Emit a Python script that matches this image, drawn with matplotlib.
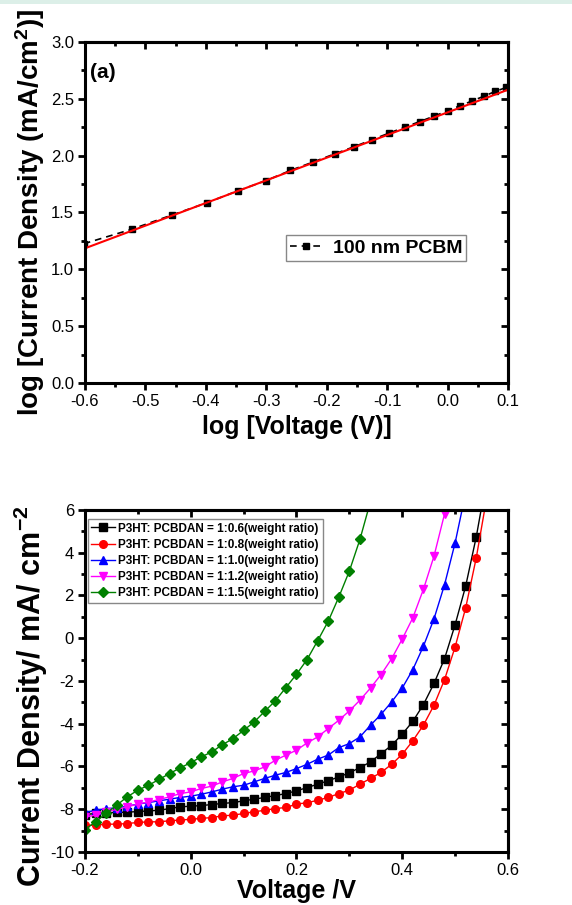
import matplotlib
matplotlib.use("Agg")
import matplotlib.pyplot as plt
from matplotlib.ticker import MultipleLocator, NullFormatter
from matplotlib.patches import Rectangle

plt.rcParams['font.family'] = ['Liberation Sans', 'DejaVu Sans']
plt.rcParams['mathtext.fontset'] = 'custom'
plt.rcParams['mathtext.rm'] = 'Liberation Sans:bold'
plt.rcParams['mathtext.bf'] = 'Liberation Sans:bold'
plt.rcParams['mathtext.default'] = 'bf'
plt.rcParams['axes.unicode_minus'] = False

# ---------------- (a) log-log J-V, 100 nm PCBM ----------------
log_v = [-0.602, -0.523, -0.456, -0.398, -0.347, -0.301, -0.260, -0.222,
         -0.187, -0.155, -0.125, -0.097, -0.071, -0.046, -0.022, 0.000,
         0.021, 0.041, 0.061, 0.079, 0.097]
log_j = [1.225, 1.352, 1.478, 1.586, 1.691, 1.779, 1.870, 1.945,
         2.015, 2.078, 2.140, 2.198, 2.250, 2.300, 2.348, 2.395,
         2.440, 2.482, 2.525, 2.565, 2.600]
fit_x = [-0.6, 0.1]
fit_y = [1.185, 2.58]

# ---------------- (b) J-V curves ----------------
voltage = [-0.20, -0.18, -0.16, -0.14, -0.12, -0.10, -0.08, -0.06, -0.04, -0.02,
           0.00, 0.02, 0.04, 0.06, 0.08, 0.10, 0.12, 0.14, 0.16, 0.18,
           0.20, 0.22, 0.24, 0.26, 0.28, 0.30, 0.32, 0.34, 0.36, 0.38,
           0.40, 0.42, 0.44, 0.46, 0.48, 0.50, 0.52, 0.54, 0.56]

j_06 = [-8.25, -8.20, -8.17, -8.15, -8.14, -8.11, -8.08, -8.05, -7.97, -7.89,
        -7.86, -7.83, -7.78, -7.73, -7.69, -7.61, -7.53, -7.45, -7.36, -7.27,
        -7.14, -6.99, -6.83, -6.67, -6.49, -6.30, -6.05, -5.79, -5.40, -5.01,
        -4.49, -3.89, -3.11, -2.12, -0.96, 0.63, 2.44, 4.74, 7.5]
j_08 = [-8.75, -8.75, -8.70, -8.70, -8.67, -8.62, -8.59, -8.59, -8.54, -8.51,
        -8.47, -8.43, -8.39, -8.31, -8.28, -8.20, -8.12, -8.05, -7.97, -7.92,
        -7.76, -7.70, -7.58, -7.45, -7.27, -7.11, -6.83, -6.56, -6.28, -5.90,
        -5.43, -4.80, -4.07, -3.14, -1.94, -0.41, 1.42, 3.76, 6.6]
j_10 = [-8.15, -8.05, -7.97, -7.94, -7.86, -7.76, -7.69, -7.61, -7.53, -7.45,
        -7.39, -7.30, -7.19, -7.06, -6.95, -6.88, -6.72, -6.56, -6.41, -6.28,
        -6.10, -5.90, -5.66, -5.47, -5.12, -4.93, -4.62, -4.07, -3.56, -2.98,
        -2.33, -1.47, -0.38, 0.90, 2.50, 4.46, 6.8]
j_12 = [-8.36, -8.28, -8.12, -8.01, -7.89, -7.76, -7.66, -7.55, -7.42, -7.27,
        -7.19, -7.03, -6.92, -6.72, -6.56, -6.33, -6.21, -6.02, -5.71, -5.47,
        -5.24, -4.90, -4.62, -4.23, -3.84, -3.40, -2.90, -2.33, -1.70, -0.96,
        -0.04, 0.95, 2.28, 3.83, 5.81, 8.0]
j_15 = [-8.95, -8.59, -8.20, -7.81, -7.42, -7.11, -6.88, -6.61, -6.33, -6.07,
        -5.82, -5.55, -5.32, -4.98, -4.70, -4.31, -3.92, -3.42, -2.93, -2.31,
        -1.69, -1.00, -0.12, 0.79, 1.92, 3.14, 4.62, 6.4]

series = [
    ("P3HT: PCBDAN = 1:0.6(weight ratio)", j_06, 'black', 's'),
    ("P3HT: PCBDAN = 1:0.8(weight ratio)", j_08, 'red', 'o'),
    ("P3HT: PCBDAN = 1:1.0(weight ratio)", j_10, 'blue', '^'),
    ("P3HT: PCBDAN = 1:1.2(weight ratio)", j_12, 'magenta', 'v'),
    ("P3HT: PCBDAN = 1:1.5(weight ratio)", j_15, 'green', 'D'),
]


def style_axes(ax, xmaj, xmin, ymaj, ymin):
    for s in ax.spines.values():
        s.set_linewidth(2.2)
    ax.xaxis.set_major_locator(MultipleLocator(xmaj))
    ax.xaxis.set_minor_locator(MultipleLocator(xmin))
    ax.yaxis.set_major_locator(MultipleLocator(ymaj))
    ax.yaxis.set_minor_locator(MultipleLocator(ymin))
    ax.tick_params(which='both', direction='out', width=2, labelsize=12, pad=3)
    ax.tick_params(which='major', length=5)
    ax.tick_params(which='minor', length=3)
    # mirrored ticks on top / right, pointing inwards
    top = ax.secondary_xaxis('top', functions=(lambda x: x, lambda x: x))
    right = ax.secondary_yaxis('right', functions=(lambda x: x, lambda x: x))
    top.xaxis.set_major_locator(MultipleLocator(xmaj))
    top.xaxis.set_minor_locator(MultipleLocator(xmin))
    right.yaxis.set_major_locator(MultipleLocator(ymaj))
    right.yaxis.set_minor_locator(MultipleLocator(ymin))
    for sec in (top, right):
        sec.tick_params(which='both', direction='in', width=2,
                        labeltop=False, labelright=False)
        sec.tick_params(which='major', length=5)
        sec.tick_params(which='minor', length=3)
        for s in sec.spines.values():
            s.set_linewidth(2.2)
    top.xaxis.set_major_formatter(NullFormatter())
    right.yaxis.set_major_formatter(NullFormatter())


fig = plt.figure(figsize=(5.72, 9.05), dpi=100)
fig.add_artist(Rectangle((0, 0.996), 1, 0.004, transform=fig.transFigure,
                         color='#dcefe8', lw=0))

# ---- panel (a)
ax1 = fig.add_axes([0.1486, 0.5768, 0.7395, 0.3768])
ax1.plot(log_v, log_j, color='black', ls=(0, (4, 3)), lw=1.2,
         marker='s', ms=5, label='100 nm PCBM')
ax1.plot(fit_x, fit_y, color='red', lw=1.5)
ax1.set_xlim(-0.6, 0.1)
ax1.set_ylim(0.0, 3.0)
style_axes(ax1, 0.1, 0.05, 0.5, 0.25)
ax1.set_xlabel('log [Voltage (V)]', fontsize=18, fontweight='bold', labelpad=4)
ax1.set_ylabel('log [Current Density (mA/cm$^{2}$)]', fontsize=20,
               fontweight='bold')
ax1.yaxis.set_label_coords(-0.09, 0.50)
ax1.text(0.012, 0.912, '(a)', transform=ax1.transAxes, fontsize=15,
         fontweight='bold', va='center', ha='left')
leg1 = ax1.legend(loc='center', bbox_to_anchor=(0.689, 0.396), fancybox=False,
                  edgecolor='#888888', framealpha=1, handlelength=1.6,
                  handletextpad=0.6, borderpad=0.2,
                  prop={'weight': 'bold', 'size': 14})
leg1.get_frame().set_linewidth(1.0)

# ---- panel (b)
ax2 = fig.add_axes([0.1486, 0.0586, 0.7395, 0.378])
for label, j, color, marker in series:
    ax2.plot(voltage[:len(j)], j, color=color, lw=1.0, marker=marker,
             ms=5.5 if marker != 'D' else 5, label=label)
ax2.set_xlim(-0.2, 0.6)
ax2.set_ylim(-10, 6)
style_axes(ax2, 0.2, 0.1, 2, 1)
ax2.set_xlabel('Voltage /V', fontsize=18, fontweight='bold', labelpad=1)
ax2.set_ylabel('Current Density/ mA/ cm$^{-2}$', fontsize=22,
               fontweight='bold')
ax2.yaxis.set_label_coords(-0.083, 0.456)
leg2 = ax2.legend(loc='center', bbox_to_anchor=(0.284, 0.851), fancybox=False,
                  edgecolor='#888888', framealpha=1, handlelength=2.0,
                  handletextpad=0.3, labelspacing=0.35, borderpad=0.3,
                  prop={'weight': 'bold', 'size': 8.5})
leg2.get_frame().set_linewidth(1.0)

fig.savefig('out.png', dpi=100)
